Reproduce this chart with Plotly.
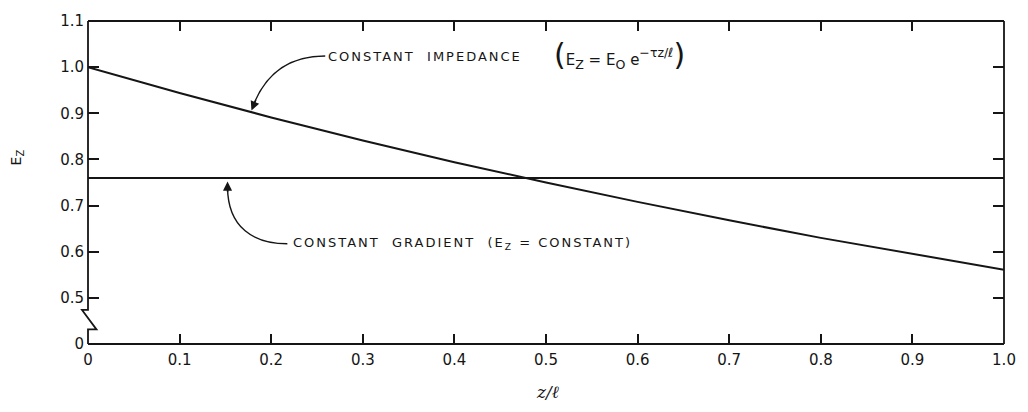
import plotly.graph_objects as go

# Normalised position along the structure and field amplitude
z_pos = [0.0, 0.1, 0.2, 0.3, 0.4, 0.5, 0.6, 0.7, 0.8, 0.9, 1.0]
ez_const_impedance = [1.000, 0.944, 0.891, 0.841, 0.794, 0.750, 0.708, 0.668, 0.630, 0.595, 0.561]
z_flat = [0.0, 1.0]
ez_const_gradient = [0.76, 0.76]

x_ticks = [0.0, 0.1, 0.2, 0.3, 0.4, 0.5, 0.6, 0.7, 0.8, 0.9, 1.0]
x_tick_text = ["0", "0.1", "0.2", "0.3", "0.4", "0.5", "0.6", "0.7", "0.8", "0.9", "1.0"]
# the y scale is broken: the zero line is drawn one step below 0.5
y_ticks = [0.4, 0.5, 0.6, 0.7, 0.8, 0.9, 1.0, 1.1]
y_tick_text = ["0", "0.5", "0.6", "0.7", "0.8", "0.9", "1.0", "1.1"]

W, H = 1028, 412
ML, MR, MT, MB = 88, 21, 12, 68
PW, PH = W - ML - MR, H - MT - MB
X_RANGE = [0.0, 1.0]
Y_RANGE = [0.4, 1.1]

INK = "#151515"
FONT = "DejaVu Sans"


def to_data(px, py):
    """Convert a page pixel position into axis units."""
    x = X_RANGE[0] + (px - ML) / PW * (X_RANGE[1] - X_RANGE[0])
    y = Y_RANGE[1] - (py - MT) / PH * (Y_RANGE[1] - Y_RANGE[0])
    return x, y


def to_paper(px, py):
    return (px - ML) / PW, (H - MB - py) / PH


fig = go.Figure()
fig.add_trace(go.Scatter(x=z_pos, y=ez_const_impedance, mode="lines",
                         line=dict(color=INK, width=2), hoverinfo="skip"))
fig.add_trace(go.Scatter(x=z_flat, y=ez_const_gradient, mode="lines",
                         line=dict(color=INK, width=2), hoverinfo="skip"))

shapes = []
frame = dict(type="line", xref="paper", yref="paper", line=dict(color=INK, width=1.8))
shapes.append(dict(frame, x0=0, y0=0, x1=1, y1=0))
shapes.append(dict(frame, x0=0, y0=1, x1=1, y1=1))
shapes.append(dict(frame, x0=1, y0=0, x1=1, y1=1))

# left axis with the break symbol between 0 and 0.5
_, ya = to_paper(0, 309)
_, yb = to_paper(0, 329)
xl = -6 / PW
xr = 8.5 / PW
shapes.append(dict(type="path", xref="paper", yref="paper",
                   path=f"M 0 1 L 0 {ya} L {xl} {ya} L {xr} {yb} L 0 {yb} L 0 0",
                   line=dict(color=INK, width=1.8)))

# curved leader lines
p0 = to_data(326, 48)
c0 = to_data(272, 48)
p1 = to_data(253, 101)
shapes.append(dict(type="path", xref="x", yref="y",
                   path=f"M {p0[0]} {p0[1]} Q {c0[0]} {c0[1]} {p1[0]} {p1[1]}",
                   line=dict(color=INK, width=1.4)))
q0 = to_data(288, 241)
qc1 = to_data(255, 241)
qc2 = to_data(228, 225)
q1 = to_data(228, 182)
shapes.append(dict(type="path", xref="x", yref="y",
                   path=f"M {q0[0]} {q0[1]} C {qc1[0]} {qc1[1]} {qc2[0]} {qc2[1]} {q1[0]} {q1[1]}",
                   line=dict(color=INK, width=1.4)))

annotations = []
tip1 = to_data(252, 104)
annotations.append(dict(x=tip1[0], y=tip1[1], xref="x", yref="y", text="",
                        showarrow=True, arrowhead=2, arrowsize=1.3, arrowwidth=1.4,
                        arrowcolor=INK, ax=5, ay=-12, standoff=0))
tip2 = to_data(228, 177)
annotations.append(dict(x=tip2[0], y=tip2[1], xref="x", yref="y", text="",
                        showarrow=True, arrowhead=2, arrowsize=1.3, arrowwidth=1.4,
                        arrowcolor=INK, ax=0, ay=12, standoff=0))

sp = "letter-spacing:2px"
t1 = to_data(327, 48)
annotations.append(dict(
    x=t1[0], y=t1[1], xref="x", yref="y", xanchor="left", yanchor="middle", showarrow=False,
    text=f"<span style='{sp}'>CONSTANT\u00a0\u00a0IMPEDANCE</span>",
    font=dict(family=FONT, size=13, color=INK)))
f1 = to_data(554, 46)
annotations.append(dict(
    x=f1[0], y=f1[1], xref="x", yref="y", xanchor="left", yanchor="middle", showarrow=False,
    text=("<span style='font-size:30px'>(</span>"
          "<span style='font-size:15px'>E</span><sub>Z</sub>"
          "<span style='font-size:15px'> = E</span><sub>O</sub>"
          "<span style='font-size:15px'> e</span>"
          "<sup>\u2212\u03c4z/\u2113</sup>"
          "<span style='font-size:30px'>)</span>"),
    font=dict(family=FONT, size=18, color=INK)))
t2 = to_data(292, 241)
annotations.append(dict(
    x=t2[0], y=t2[1], xref="x", yref="y", xanchor="left", yanchor="middle", showarrow=False,
    text=(f"<span style='{sp}'>CONSTANT\u00a0\u00a0GRADIENT\u00a0\u00a0(E<sub>Z</sub> = CONSTANT)</span>"),
    font=dict(family=FONT, size=13, color=INK)))

# axis titles
xt = to_paper(549, 393)
annotations.append(dict(x=xt[0], y=xt[1], xref="paper", yref="paper", showarrow=False,
                        xanchor="center", yanchor="middle",
                        text="<i>z/\u2113</i>", font=dict(family="DejaVu Serif", size=17, color=INK)))
yt = to_paper(17, 152)
annotations.append(dict(x=yt[0], y=yt[1], xref="paper", yref="paper", showarrow=False,
                        xanchor="center", yanchor="middle",
                        textangle=-90, text="E<sub>Z</sub>",
                        font=dict(family=FONT, size=14, color=INK)))

fig.update_layout(
    width=W, height=H,
    margin=dict(l=ML, r=MR, t=MT, b=MB),
    paper_bgcolor="white", plot_bgcolor="white",
    showlegend=False,
    shapes=shapes,
    annotations=annotations,
    font=dict(family=FONT, size=15, color=INK),
)
fig.update_xaxes(range=X_RANGE, tickvals=x_ticks, ticktext=x_tick_text,
                 ticks="inside", ticklen=10, tickwidth=1.6, tickcolor=INK,
                 showline=False, mirror="ticks", showgrid=False, zeroline=False,
                 ticklabelstandoff=5, tickfont=dict(family=FONT, size=15, color=INK))
fig.update_yaxes(range=Y_RANGE, tickvals=y_ticks, ticktext=y_tick_text,
                 ticks="inside", ticklen=11, tickwidth=1.6, tickcolor=INK,
                 showline=False, mirror="ticks", showgrid=False, zeroline=False,
                 ticklabelstandoff=3, tickfont=dict(family=FONT, size=15, color=INK))

fig.write_html("out.html")
